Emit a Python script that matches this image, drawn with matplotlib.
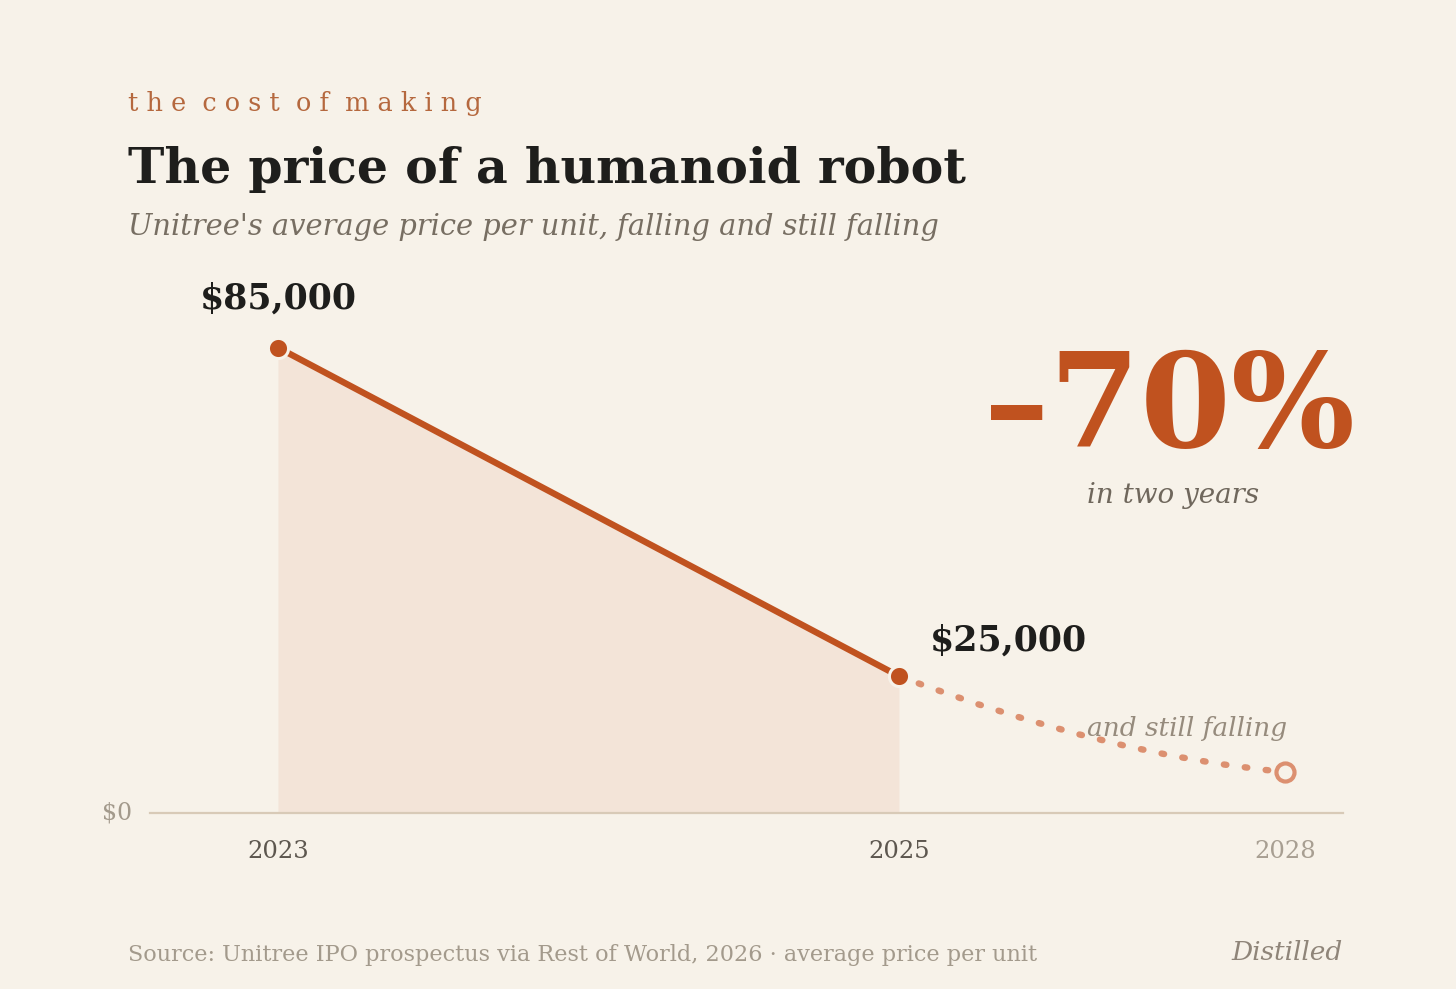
import matplotlib.pyplot as plt
from matplotlib.path import Path
from matplotlib.patches import PathPatch

# Data
years = [2023, 2025]
prices = [85000, 25000]
proj_years = [2025, 2028]
proj_prices = [25000, 7500]
proj_bend = (2025.68, 10400)   # bend of the projected curve
tick_years = [2023, 2025, 2028]
tick_labels = ["2023", "2025", "2028"]

# 2028 is drawn closer than a linear year scale would put it
x_of = {2023: 2023.0, 2025: 2025.0, 2028: 2026.243}

BG = "#f7f2e9"
RUST = "#c0521f"
DOT = "#dc9070"
SERIF = "DejaVu Serif"

W, H = 1456, 989
fig = plt.figure(figsize=(W / 100, H / 100), dpi=100, facecolor=BG)
ax = fig.add_axes([150 / W, 1 - 813 / H, (1343 - 150) / W, (813 - 260) / H])
ax.set_facecolor(BG)
ax.set_xlim(2022.588, 2026.430)
ax.set_ylim(0, 101000)
for s in ax.spines.values():
    s.set_visible(False)
ax.set_xticks([])
ax.set_yticks([])
ax.axhline(0, color="#d8cab7", lw=1.6, zorder=1, clip_on=False)

xs = [x_of[y] for y in years]
ax.fill_between(xs, prices, 0, color="#f3e4d8", lw=0, zorder=0)
ax.plot(xs, prices, color=RUST, lw=4.6, solid_capstyle="round", zorder=3)

# projected curve
p0 = (x_of[proj_years[0]], proj_prices[0])
p2 = (x_of[proj_years[1]], proj_prices[1])
path = Path([p0, proj_bend, p2], [Path.MOVETO, Path.CURVE3, Path.CURVE3])
ax.add_patch(PathPatch(path, fill=False, edgecolor=DOT, lw=4.6,
                       linestyle=(0, (0.4, 2.9)), capstyle="round", zorder=2))

ax.plot(xs, prices, "o", ms=14.5, color=RUST, mec=BG, mew=2.2, zorder=4)
ax.plot([p2[0]], [p2[1]], "o", ms=13, mfc=BG, mec=DOT, mew=3, zorder=4)

# axis labels
for yr, lab in zip(tick_years, tick_labels):
    c = "#a89f92" if yr == 2028 else "#5d574f"
    ax.text(x_of[yr], -7000, lab, ha="center", va="center", fontsize=17.5,
            family=SERIF, color=c)
ax.text(-0.015, 0, "$0", transform=ax.get_yaxis_transform(), ha="right",
        va="center", fontsize=17, family=SERIF, color="#a39a8c")

# value labels
ax.text(x_of[2023] - 0.25, prices[0] + 9000, "$85,000", ha="left", va="center",
        fontsize=25, weight="bold", family=SERIF, color="#1e1e1c")
ax.text(x_of[2025] + 0.1, prices[1] + 6500, "$25,000", ha="left", va="center",
        fontsize=25, weight="bold", family=SERIF, color="#1e1e1c")


def ftext(x, y, s, **kw):
    kw.setdefault("family", SERIF)
    fig.text(x / W, 1 - y / H, s, **kw)


ftext(128, 111, "t h e  c o s t  o f  m a k i n g", fontsize=18.4,
      color="#b5683e", va="baseline")
ftext(128, 183, "The price of a humanoid robot", fontsize=35.3, weight="bold",
      color="#1e1e1c", va="baseline")
ftext(128, 235, "Unitree's average price per unit, falling and still falling",
      fontsize=20.8, style="italic", color="#776e62", va="baseline")

ftext(1355, 447, "\u201370%", fontsize=94, weight="bold", color=RUST,
      ha="right", va="baseline")
ftext(1087, 503, "in two years", fontsize=20, style="italic",
      color="#6f675c", va="baseline")
ftext(1087, 736, "and still falling", fontsize=19, style="italic",
      color="#968b7d", va="baseline")

ftext(128, 961, "Source: Unitree IPO prospectus via Rest of World, 2026 \u00b7 average price per unit",
      fontsize=16.1, color="#a39a8c", va="baseline")
ftext(1343, 960, "Distilled", fontsize=19, style="italic", color="#8f8579",
      ha="right", va="baseline")

plt.savefig("out.png", dpi=100, facecolor=BG)
